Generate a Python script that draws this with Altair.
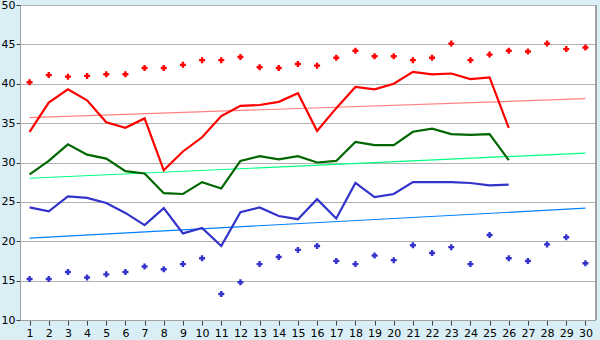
import altair as alt
import pandas as pd

days = list(range(1, 31))
max_pts = [40.2, 41.1, 40.9, 41.0, 41.2, 41.2, 42.0, 42.0, 42.4, 43.0,
           43.0, 43.4, 42.1, 42.0, 42.5, 42.3, 43.3, 44.2, 43.5, 43.5,
           43.0, 43.3, 45.1, 43.0, 43.7, 44.2, 44.1, 45.1, 44.4, 44.6]
min_pts = [15.2, 15.2, 16.1, 15.4, 15.8, 16.1, 16.8, 16.45, 17.1, 17.85,
           13.3, 14.8, 17.1, 18.0, 18.9, 19.4, 17.5, 17.1, 18.2, 17.6,
           19.5, 18.5, 19.25, 17.1, 20.8, 17.85, 17.5, 19.6, 20.5, 17.2]
line_days = list(range(1, 27))
red_line = [33.9, 37.6, 39.3, 37.9, 35.1, 34.4, 35.6, 29.0, 31.4, 33.2,
            35.9, 37.2, 37.3, 37.7, 38.8, 34.0, 36.9, 39.6, 39.3, 40.0,
            41.5, 41.2, 41.3, 40.6, 40.8, 34.4]
green_line = [28.5, 30.2, 32.3, 31.0, 30.5, 28.9, 28.6, 26.1, 26.0, 27.5,
              26.7, 30.2, 30.8, 30.4, 30.8, 30.0, 30.2, 32.6, 32.2, 32.2,
              33.9, 34.3, 33.6, 33.5, 33.6, 30.3]
blue_line = [24.3, 23.8, 25.7, 25.5, 24.85, 23.6, 22.05, 24.2, 21.0, 21.7,
             19.4, 23.7, 24.3, 23.2, 22.8, 25.35, 22.9, 27.4, 25.6, 26.0,
             27.5, 27.5, 27.5, 27.4, 27.1, 27.2]
trend_days = [1, 30]
red_trend = [35.7, 38.1]
green_trend = [28.0, 31.2]
blue_trend = [20.4, 24.2]

series_names = ["red", "green", "blue", "redtrend", "greentrend", "bluetrend", "maxp", "minp"]
series_colors = ["#FF0000", "#006600", "#3333CC", "#FF8080", "#00FF80", "#0080FF", "#FF0000", "#3333CC"]

rows = []
for d, v in zip(line_days, red_line):
    rows.append({"day": d, "v": v, "s": "red"})
for d, v in zip(line_days, green_line):
    rows.append({"day": d, "v": v, "s": "green"})
for d, v in zip(line_days, blue_line):
    rows.append({"day": d, "v": v, "s": "blue"})
lines_df = pd.DataFrame(rows)

trows = []
for d, v in zip(trend_days, red_trend):
    trows.append({"day": d, "v": v, "s": "redtrend"})
for d, v in zip(trend_days, green_trend):
    trows.append({"day": d, "v": v, "s": "greentrend"})
for d, v in zip(trend_days, blue_trend):
    trows.append({"day": d, "v": v, "s": "bluetrend"})
trend_df = pd.DataFrame(trows)

prows = []
for d, v in zip(days, max_pts):
    prows.append({"day": d, "v": v, "s": "maxp"})
for d, v in zip(days, min_pts):
    prows.append({"day": d, "v": v, "s": "minp"})
pts_df = pd.DataFrame(prows)

x = alt.X("day:Q", scale=alt.Scale(domain=[0.5, 30.5], nice=False, zero=False),
          axis=alt.Axis(values=days, title=None, grid=False, labelFlush=False,
                        domainColor="#A0A0A0", tickColor="#404040", tickSize=5,
                        labelColor="#000000", labelFontSize=11, labelPadding=2))
y = alt.Y("v:Q", scale=alt.Scale(domain=[10, 50], nice=False, zero=False),
          axis=alt.Axis(values=[10, 15, 20, 25, 30, 35, 40, 45, 50], title=None,
                        grid=True, gridColor="#B0B0B0", domainColor="#A0A0A0",
                        tickColor="#404040", tickSize=4, labelColor="#000000",
                        labelFontSize=11, labelPadding=1, labelFlush=False))
color = alt.Color("s:N", scale=alt.Scale(domain=series_names, range=series_colors), legend=None)

trend = alt.Chart(trend_df).mark_line(strokeWidth=1.2).encode(x=x, y=y, color=color, detail="s:N")
lines = alt.Chart(lines_df).mark_line(strokeWidth=2.2).encode(x=x, y=y, color=color, detail="s:N")
pts = alt.Chart(pts_df).mark_point(shape="cross", filled=True, size=36, opacity=1).encode(x=x, y=y, color=color)
right_edge = alt.Chart(pts_df).mark_rule(color="#A0A0A0", strokeWidth=2).encode(
    x=alt.value(576), y=alt.value(0), y2=alt.value(315))

chart = alt.layer(trend, lines, pts, right_edge).properties(
    width=575, height=315,
    autosize=alt.AutoSizeParams(type="none"),
    padding={"left": 20, "top": 5, "right": 5, "bottom": 20},
    background="#D9EEF5",
).configure_view(
    fill="#FFFFFF", stroke="#A0A0A0", strokeWidth=1
).configure_axis(
    labelFont="DejaVu Sans", domainWidth=1
)

chart.save("out.html", embed_options={"renderer": "svg", "actions": False})
